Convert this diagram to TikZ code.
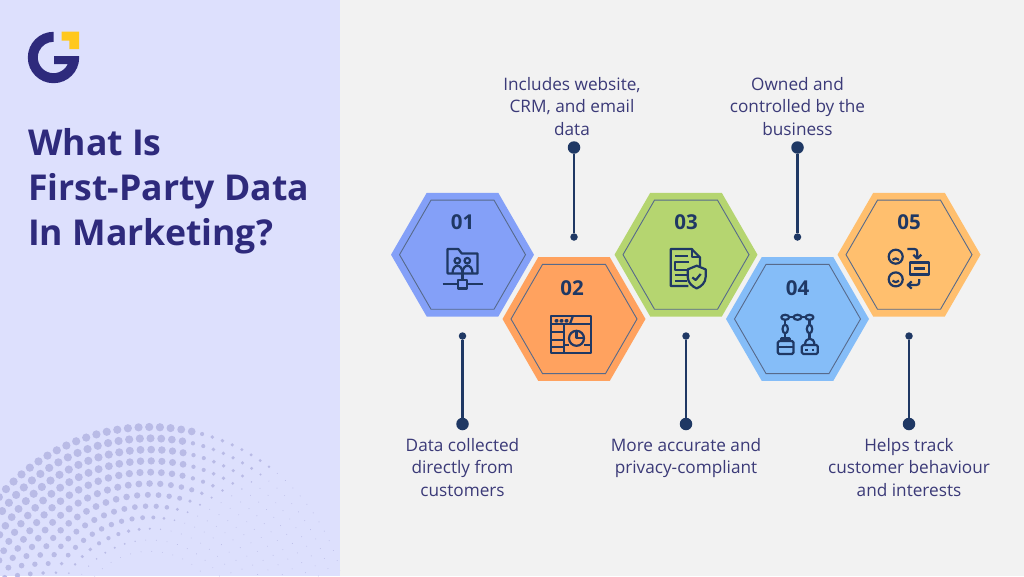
\documentclass[tikz,border=0pt]{standalone}
\usepackage{fontspec}
\usepackage{tikz}
\usetikzlibrary{shapes.geometric}
\setmainfont{Open Sans}
\definecolor{panel}{HTML}{DDE0FD}
\definecolor{page}{HTML}{F2F2F2}
\definecolor{halftone}{HTML}{B9BBE6}
\definecolor{brand}{HTML}{2E2A7C}
\definecolor{brandgold}{HTML}{FFC81E}
\definecolor{ink}{HTML}{1F3864}
\definecolor{caption}{HTML}{3B3A78}
\definecolor{hexblue}{HTML}{84A0F8}
\definecolor{hexorange}{HTML}{FFA25F}
\definecolor{hexgreen}{HTML}{B5D570}
\definecolor{hexsky}{HTML}{85BDF8}
\definecolor{hexgold}{HTML}{FFBF6E}
\tikzset{
  hexouter/.style={regular polygon,regular polygon sides=6,minimum size=143pt,inner sep=0pt,fill=#1},
  hexinner/.style={regular polygon,regular polygon sides=6,minimum size=126pt,inner sep=0pt,draw=ink!75,line width=0.9pt},
  numlabel/.style={font=\fontsize{20.5}{24}\selectfont\bfseries,text=ink,inner sep=0pt},
  bigdot/.style={circle,fill=ink,minimum size=12.5pt,inner sep=0pt},
  smalldot/.style={circle,fill=ink,minimum size=7.5pt,inner sep=0pt},
  stem/.style={ink,line width=2.3pt},
  caption/.style={font=\fontsize{17.2}{22.4}\selectfont,text=caption,align=center,inner sep=0pt},
  headline/.style={font=\fontsize{35.6}{45}\selectfont\bfseries,text=brand,anchor=base west,inner sep=0pt},
  iconline/.style={draw=ink,line width=2.2pt,line join=round,fill=none}
}
\newcommand{\iconfolder}{
  \draw (-15,18.7) -- (-15,-5.7) -- (-4.2,-5.7) -- (-0.8,-1.3) -- (15,-1.3) -- (15,18.7) -- cycle;
  \draw (-5.2,6) circle[radius=2.8];
  \draw (4.8,6) circle[radius=2.8];
  \draw (-10,18.7) .. controls (-10,8.5) and (0,8.5) .. (0,18.7);
  \draw (0,18.7) .. controls (0,8.5) and (10,8.5) .. (10,18.7);
  \draw (0,18.7) -- (0,25.3);
  \draw (-4.2,25.3) rectangle (4.2,33.7);
  \draw (-20,29.3) -- (-4.2,29.3) (4.2,29.3) -- (20,29.3);
}
\newcommand{\iconbrowser}{
  \draw (-22.8,-3.3) rectangle (17.2,34.3);
  \draw (-22.8,5) -- (17.2,5);
  \draw (-1,-3.3) -- (-4,5);
  \fill[ink] (-17.5,1.8) circle[radius=1] (-12.5,1.8) circle[radius=1] (-7.5,1.8) circle[radius=1];
  \draw (-9.8,5) -- (-9.8,34.3);
  \draw (-22.8,12.7) -- (-9.8,12.7) (-22.8,21) -- (-9.8,21) (-22.8,27.7) -- (-9.8,27.7);
  \draw (-9.8,26) -- (-5,26) (10,26) -- (17.2,26);
  \draw (2.5,19.3) circle[radius=7.5];
  \draw (2.5,11.8) -- (2.5,19.3) -- (10,19.3);
}
\newcommand{\icondocshield}{
  \draw (2.3,31.3) -- (-15.3,31.3) -- (-15.3,-5.7) -- (5.7,-5.7) -- (14,2.7) -- (14,11.5);
  \draw (6.2,-5.7) -- (6.2,2.2) -- (14,2.2);
  \draw (-11,1) -- (2,1);
  \draw (3,7.5) -- (-11,7.5) -- (-11,15.5) -- (1,15.5);
  \draw (-11,20.3) -- (0.5,20.3) (-11,26) -- (0.5,26);
  \draw (10.7,11) -- (19.7,14.7) -- (19.7,22) .. controls (19.7,28) and (15,32) .. (10.7,33.7)
    .. controls (6.4,32) and (1.7,28) .. (1.7,22) -- (1.7,14.7) -- cycle;
  \draw (6.3,22.7) -- (9.7,25.3) -- (14.7,19.3);
}
\newcommand{\iconchain}{
  \draw (-12.3,-1.7) ellipse[x radius=4,y radius=2.5];
  \draw (0,-1.7) ellipse[x radius=4,y radius=2.5];
  \draw (12,-1.7) ellipse[x radius=4,y radius=2.5];
  \draw (-8.3,-1.7) -- (-4,-1.7) (4,-1.7) -- (8,-1.7);
  \draw (-12.3,10) ellipse[x radius=2.7,y radius=4.3];
  \draw (12,10) ellipse[x radius=2.7,y radius=4.3];
  \draw (-12.3,0.8) -- (-12.3,5.7) (-12.3,14.3) -- (-12.3,19.5);
  \draw (12,0.8) -- (12,5.7) (12,14.3) -- (12,19.3);
  \draw[rounded corners=1.5pt] (-19.7,22) rectangle (-4,35);
  \draw (-16,22) -- (-16,19.5) -- (-8,19.5) -- (-8,22);
  \draw (-19.7,27.7) -- (-4,27.7);
  \draw (-12,26.5) -- (-12,29);
  \draw[rounded corners=1.5pt] (4.3,26) rectangle (20.3,35);
  \draw (7.5,26) .. controls (7.5,17.5) and (17,17.5) .. (17,26);
  \draw (9,29.5) -- (9,32) (15.5,29.5) -- (15.5,32);
}
\newcommand{\iconfaces}{
  \draw (-13.3,2) circle[radius=7];
  \draw (-13.3,24.7) circle[radius=7];
  \draw (-16.5,5.2) .. controls (-15,3.2) and (-11.5,3.2) .. (-10,5.2);
  \draw (-16.5,26) .. controls (-15,28) and (-11.5,28) .. (-10,26);
  \draw (1.3,7.7) rectangle (19.7,19.7);
  \draw (5,13.7) -- (16,13.7);
  \draw (-1.7,-5.7) -- (5.3,-5.7) .. controls (7.3,-5.7) and (8.3,-4.7) .. (8.3,-2.7) -- (8.3,4);
  \draw (4.3,0) -- (8.3,4) -- (12.3,0);
  \draw (10.3,24.3) -- (10.3,27.3) .. controls (10.3,29.3) and (9.3,30.3) .. (7.3,30.3) -- (-1.3,30.3);
  \draw (2.7,26.7) -- (-1.3,30.3) -- (2.7,33.9);
}
\begin{document}
\begin{tikzpicture}[x=1pt,y=-1pt]
\useasboundingbox (0,0) rectangle (1024,576);
\fill[page] (0,0) rectangle (1024,576);
\fill[panel] (0,0) rectangle (340,576);
\begin{scope}
\clip (0,0) rectangle (340,576);
\foreach \row in {0,...,11}{
  \pgfmathsetmacro{\rad}{198-11.3*\row}
  \pgfmathsetmacro{\astep}{10.7/\rad*57.296}
  \pgfmathtruncatemacro{\acount}{180/\astep}
  \foreach \k in {0,...,\acount}{
    \pgfmathsetmacro{\dotx}{150+\rad*cos(180+\k*\astep+1.5*\row)}
    \pgfmathsetmacro{\doty}{625+\rad*sin(180+\k*\astep+1.5*\row)}
    \pgfmathsetmacro{\ubar}{0.5*\dotx+\doty}
    \pgfmathsetmacro{\dotr}{max(0.45,min(4.1,4.1-0.0156*(\ubar-510),3.4-0.027*(\ubar-555),2.5-0.083*(\ubar-588),\dotx<192?5:2.1-0.0093*(\dotx-200)))}
    \fill[halftone] (\dotx,\doty) circle[radius=\dotr];
  }
}
\end{scope}
\fill[brand] (53.5,31.8) arc[start angle=-90,end angle=-360,radius=25.7] -- (79.2,56) -- (54,56) -- (54,64) -- (67.8,64)
  arc[start angle=-335.5,end angle=-90,radius=15.7] -- cycle;
\fill[brandgold] (61.7,31.7) -- (79,31.7) -- (79,49) -- (69.3,49) -- (69.3,40.7) -- (61.7,40.7) -- cycle;
\node[headline] (heada) at (28,155) {What Is};
\node[headline] (headb) at (28,200) {First-Party Data};
\node[headline] (headc) at (28,245) {In Marketing?};

\node[hexouter=hexblue] (hexa) at (462.5,254.7) {};
\node[hexouter=hexorange] (hexb) at (574,319) {};
\node[hexouter=hexgreen] (hexc) at (686,254.7) {};
\node[hexouter=hexsky] (hexd) at (797.5,319) {};
\node[hexouter=hexgold] (hexe) at (909,254.7) {};
\node[hexinner] (rima) at (hexa) {};
\node[hexinner] (rimb) at (hexb) {};
\node[hexinner] (rimc) at (hexc) {};
\node[hexinner] (rimd) at (hexd) {};
\node[hexinner] (rime) at (hexe) {};
\node[numlabel] (numa) at ([yshift=33pt]hexa.center) {01};
\node[numlabel] (numb) at ([xshift=-2pt,yshift=30.5pt]hexb.center) {02};
\node[numlabel] (numc) at ([yshift=33pt]hexc.center) {03};
\node[numlabel] (numd) at ([yshift=30.5pt]hexd.center) {04};
\node[numlabel] (nume) at ([yshift=33pt]hexe.center) {05};
\begin{scope}[shift={(hexa)},every path/.style={iconline}] \iconfolder \end{scope}
\begin{scope}[shift={(hexb)},every path/.style={iconline}] \iconbrowser \end{scope}
\begin{scope}[shift={(hexc)},every path/.style={iconline}] \icondocshield \end{scope}
\begin{scope}[shift={(hexd)},every path/.style={iconline}] \iconchain \end{scope}
\begin{scope}[shift={(hexe)},every path/.style={iconline}] \iconfaces \end{scope}

\node[smalldot] (tipa) at (462.5,336) {};
\node[bigdot] (enda) at (462.5,424) {};
\node[bigdot] (endb) at (574,147.5) {};
\node[smalldot] (tipb) at (574,237) {};
\node[smalldot] (tipc) at (686,336) {};
\node[bigdot] (endc) at (686,424) {};
\node[bigdot] (endd) at (797.5,147.5) {};
\node[smalldot] (tipd) at (797.5,237) {};
\node[smalldot] (tipe) at (909,336) {};
\node[bigdot] (ende) at (909,424) {};
\draw[stem] (tipa) -- (enda);
\draw[stem] (endb) -- (tipb);
\draw[stem] (tipc) -- (endc);
\draw[stem] (endd) -- (tipd);
\draw[stem] (tipe) -- (ende);

\node[caption] (capa) at (462.5,467.5) {Data collected\\directly from\\customers};
\node[caption] (capb) at (572,106.5) {Includes website,\\CRM, and email\\data};
\node[caption] (capc) at (686,458) {More accurate and\\privacy-compliant};
\node[caption] (capd) at (797.5,106.5) {Owned and\\controlled by the\\business};
\node[caption] (cape) at (909,467.5) {Helps track\\customer behaviour\\and interests};
\end{tikzpicture}
\end{document}
